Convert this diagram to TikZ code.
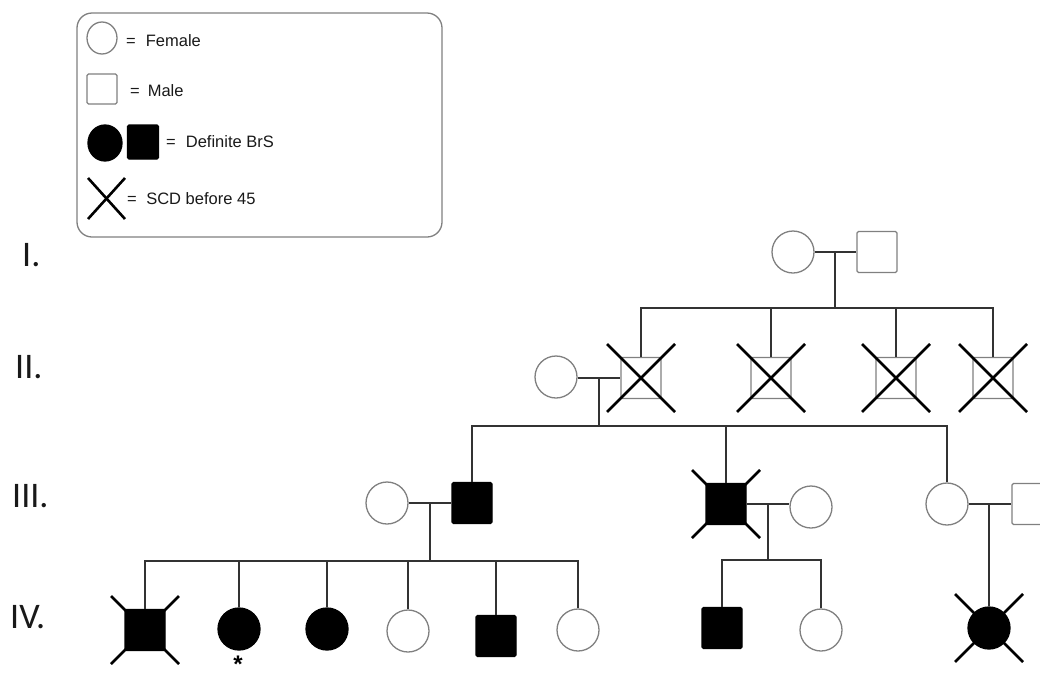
\documentclass[tikz,border=0pt]{standalone}
\usepackage{fontspec}
\setmainfont{Liberation Sans}
\newfontfamily\genfont{Carlito}
\usetikzlibrary{shapes.geometric}
\newcommand\sdcross[1]{\draw[crossline] ([shift={(-34,-34)}]#1.center) -- ([shift={(34,34)}]#1.center) ([shift={(-34,34)}]#1.center) -- ([shift={(34,-34)}]#1.center);}
\begin{document}
\begin{tikzpicture}[x=1pt,y=-1pt,
 outl/.style={draw=black!50, line width=1.3pt},
 fem/.style={ellipse, outl, minimum width=42pt, minimum height=42pt, inner sep=0pt, fill=white},
 mal/.style={rectangle, rounded corners=1.5pt, outl, minimum width=40pt, minimum height=41pt, inner sep=0pt, fill=white},
 aff/.style={fill=black, draw=black},
 conn/.style={draw=black!80, line width=1.6pt},
 crossline/.style={draw=black, line width=2.6pt},
 gen/.style={font=\genfont\fontsize{36}{36}\selectfont, anchor=base west, inner sep=0pt, text=black!90},
 leg/.style={font=\fontsize{16.5}{16.5}\selectfont, anchor=base west, inner sep=0pt, text=black!90}
]
\useasboundingbox (0,0) rectangle (1040,678);

% ---------- legend ----------
\draw[draw=black!50, line width=1.3pt, rounded corners=15pt] (77,13) rectangle (442,237);
\node[fem, minimum width=30pt, minimum height=32pt] (LF) at (102,38) {};
\node[leg] (LFt) at (126,46) {=\hspace{10pt}Female};
\node[mal, minimum width=30pt, minimum height=30pt] (LM) at (102,89) {};
\node[leg] (LMt) at (130,96) {=\hspace{8pt}Male};
\node[fem, aff, minimum width=34pt, minimum height=36pt] (LFa) at (105,143) {};
\node[mal, aff, minimum width=31pt, minimum height=34pt] (LMa) at (143,142) {};
\node[leg] (LAt) at (166,147) {=\hspace{10pt}Definite BrS};
\coordinate (LX1) at (88,178); \coordinate (LX2) at (125,219);
\coordinate (LX3) at (88,219); \coordinate (LX4) at (125,178);
\draw[crossline] (LX1) -- (LX2) (LX3) -- (LX4);
\node[leg] (LXt) at (127,204) {=\hspace{9.5pt}SCD before 45};

% ---------- generation labels ----------
\node[gen] (gI) at (22,266) {I.};
\node[gen] (gII) at (15,378) {II.};
\node[gen] (gIII) at (12,507) {III.};
\node[gen] (gIV) at (10,628) {IV.};

% ---------- generation I ----------
\node[fem] (I1) at (793,252) {};
\node[mal] (I2) at (877,252) {};
\coordinate (m1) at (835,252);
\coordinate (s1) at (835,308);

% ---------- generation II ----------
\node[fem] (II1) at (556,377) {};
\node[mal] (II2) at (641,378) {};
\node[mal] (II3) at (771,378) {};
\node[mal] (II4) at (896,378) {};
\node[mal] (II5) at (993,378) {};
\coordinate (m2) at (599,378);
\coordinate (s2) at (599,426);

% ---------- generation III ----------
\node[fem] (III1) at (387,503) {};
\node[mal, aff] (III2) at (472,503) {};
\node[mal, aff] (III3) at (726,504) {};
\node[fem] (III4) at (811,507) {};
\node[fem] (III5) at (947,504) {};
\node[mal] (III6) at (1032,504) {};
\coordinate (m3) at (430,503);
\coordinate (s3) at (430,561);
\coordinate (m4) at (768,504);
\coordinate (s4) at (768,560);
\coordinate (m5) at (989,504);

% ---------- generation IV ----------
\node[mal, aff] (IV1) at (145,630) {};
\node[fem, aff] (IV2) at (239,629) {};
\node[fem, aff] (IV3) at (327,629) {};
\node[fem] (IV4) at (408,631) {};
\node[mal, aff] (IV5) at (496,636) {};
\node[fem] (IV6) at (578,630) {};
\node[mal, aff] (IV7) at (722,628) {};
\node[fem] (IV8) at (821,630) {};
\node[fem, aff] (IV9) at (989,628) {};
\node[font=\bfseries\fontsize{24}{24}\selectfont, anchor=base, inner sep=0pt] (prob) at (238,672) {*};

% ---------- connectors ----------
\draw[conn] (I1.east |- m1) -- (I2.west |- m1);
\draw[conn] (m1) -- (s1);
\draw[conn] (s1) -| (II2);
\draw[conn] (s1) -| (II3);
\draw[conn] (s1) -| (II4);
\draw[conn] (s1) -| (II5);

\draw[conn] (II1.east |- m2) -- (II2.west |- m2);
\draw[conn] (m2) -- (s2);
\draw[conn] (s2) -| (III2);
\draw[conn] (s2) -| (III3);
\draw[conn] (s2) -| (III5);

\draw[conn] (III1.east |- m3) -- (III2.west |- m3);
\draw[conn] (m3) -- (s3);
\draw[conn] (s3) -| (IV1);
\draw[conn] (s3) -| (IV2);
\draw[conn] (s3) -| (IV3);
\draw[conn] (s3) -| (IV4);
\draw[conn] (s3) -| (IV5);
\draw[conn] (s3) -| (IV6);

\draw[conn] (III3.east |- m4) -- (III4.west |- m4);
\draw[conn] (m4) -- (s4);
\draw[conn] (s4) -| (IV7);
\draw[conn] (s4) -| (IV8);

\draw[conn] (III5.east |- m5) -- (III6.west |- m5);
\draw[conn] (m5) -- (IV9);

% ---------- SCD crosses ----------
\sdcross{II2}
\sdcross{II3}
\sdcross{II4}
\sdcross{II5}
\sdcross{III3}
\sdcross{IV1}
\sdcross{IV9}
\end{tikzpicture}
\end{document}
